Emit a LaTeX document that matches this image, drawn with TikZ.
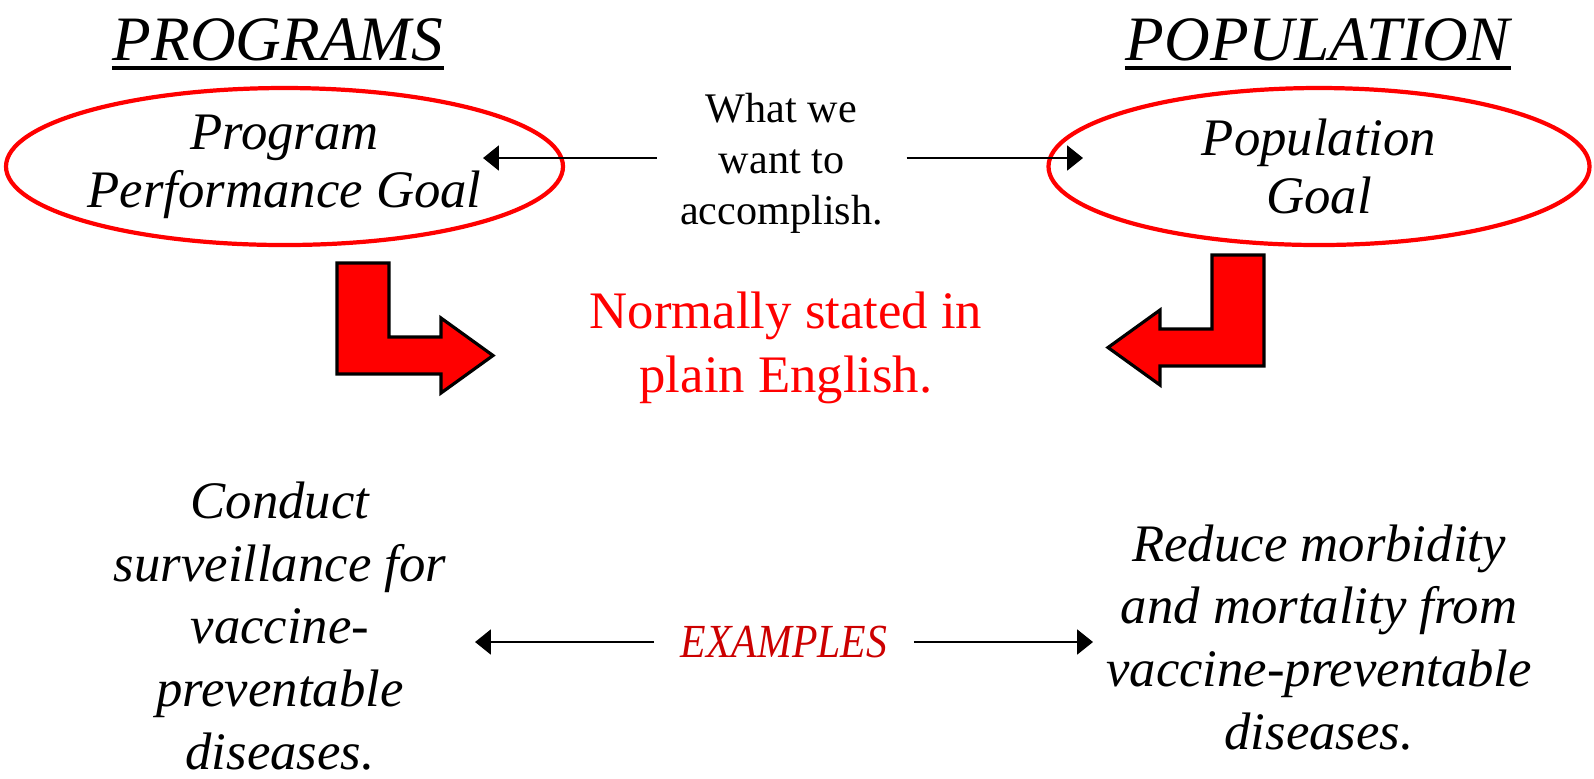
\documentclass[tikz,border=0pt]{standalone}
\usepackage{fontspec}
\setmainfont{Liberation Serif}
\newfontfamily\narrowserif[FakeStretch=0.88]{Liberation Serif}
\usetikzlibrary{shapes.geometric,arrows.meta,positioning}
\definecolor{goalRed}{RGB}{255,0,0}
\definecolor{exampleRed}{RGB}{204,0,0}

\begin{document}
\begin{tikzpicture}[
    title/.style={font=\fontsize{18}{20}\selectfont\itshape,inner sep=0pt},
    goal/.style={ellipse,draw=goalRed,line width=1.2pt,minimum width=5.41cm,minimum height=1.57cm,
        inner sep=0pt,align=center,font=\fontsize{15}{16.5}\selectfont\itshape},
    sample/.style={align=center,inner sep=0pt,font=\fontsize{15}{17.9}\selectfont\itshape},
    conn/.style={line width=0.8pt,-{Triangle[length=4.5pt,width=7pt]}},
    bentarrow/.style={fill=goalRed,draw=black,line width=0.9pt,line join=miter}
  ]
  \useasboundingbox (0,0) rectangle (15.94,-7.78);

  % headings
  \node[title,anchor=base] (progtitle) at (2.78,-0.60) {PROGRAMS};
  \node[title,anchor=base] (poptitle) at (13.18,-0.60) {POPULATION};
  \draw[line width=0.9pt] ([yshift=-0.08cm]progtitle.base west) -- ([yshift=-0.08cm]progtitle.base east);
  \draw[line width=0.9pt] ([yshift=-0.08cm]poptitle.base west) -- ([yshift=-0.08cm]poptitle.base east);

  % goals
  \node[goal] (prog) at (2.845,-1.665) {Program\\Performance Goal};
  \node[goal] (popul) at (13.19,-1.665) {Population\\Goal};

  \node[align=center,inner xsep=0.23cm,inner ysep=0pt,font=\fontsize{12}{14.5}\selectfont] (what) at (7.815,-1.635)
    {What we\\want to\\accomplish.};
  \coordinate (progin) at (4.83,-1.58);
  \coordinate (popin) at (10.83,-1.58);
  \draw[conn] (what.west |- progin) -- (progin);
  \draw[conn] (what.east |- popin) -- (popin);

  % bent arrows
  \draw[bentarrow] (3.37,-2.63) -- (3.89,-2.63) -- (3.89,-3.37) -- (4.41,-3.37) -- (4.41,-3.18)
    -- (4.93,-3.555) -- (4.41,-3.93) -- (4.41,-3.74) -- (3.37,-3.74) -- cycle;
  \draw[bentarrow] (12.64,-2.55) -- (12.12,-2.55) -- (12.12,-3.29) -- (11.60,-3.29) -- (11.60,-3.10)
    -- (11.08,-3.475) -- (11.60,-3.85) -- (11.60,-3.66) -- (12.64,-3.66) -- cycle;

  \node[align=center,inner sep=0pt,text=goalRed,font=\fontsize{15}{18.4}\selectfont] (plain) at (7.86,-3.48)
    {Normally stated in\\plain English.};

  % examples
  \node[sample] (progex) at (2.80,-6.26) {Conduct\\surveillance for\\vaccine-\\preventable\\diseases.};
  \node[sample] (popex) at (13.19,-6.375) {Reduce morbidity\\and mortality from\\vaccine-preventable\\diseases.};

  \node[inner xsep=0.26cm,inner ysep=0pt,text=exampleRed,font=\narrowserif\itshape\fontsize{13.5}{15}\selectfont] (examples) at (7.84,-6.42) {EXAMPLES};
  \coordinate (progexin) at (4.75,-6.42);
  \coordinate (popexin) at (10.93,-6.42);
  \draw[conn] (examples.west) -- (progexin);
  \draw[conn] (examples.east) -- (popexin);
\end{tikzpicture}
\end{document}
